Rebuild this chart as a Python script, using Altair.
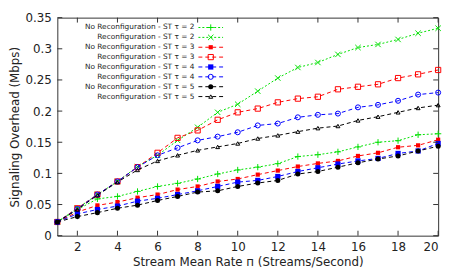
import altair as alt
import pandas as pd

n_values = list(range(1, 21))

series_names = [
    "No Reconfiguration - ST τ = 2",
    "Reconfiguration - ST τ = 2",
    "No Reconfiguration - ST τ = 3",
    "Reconfiguration - ST τ = 3",
    "No Reconfiguration - ST τ = 4",
    "Reconfiguration - ST τ = 4",
    "No Reconfiguration - ST τ = 5",
    "Reconfiguration - ST τ = 5",
]

nr_tau2 = [0.022, 0.042, 0.059, 0.063, 0.071, 0.079, 0.084, 0.091, 0.099, 0.1055,
           0.110, 0.1156, 0.127, 0.130, 0.1346, 0.1425, 0.150, 0.1525, 0.162, 0.1636]
r_tau2 = [0.022, 0.044, 0.066, 0.087, 0.111, 0.129, 0.153, 0.174, 0.198, 0.211,
          0.232, 0.253, 0.270, 0.278, 0.291, 0.302, 0.307, 0.315, 0.325, 0.333]
nr_tau3 = [0.022, 0.038, 0.0486, 0.054, 0.061, 0.066, 0.074, 0.079, 0.087, 0.091,
           0.098, 0.1045, 0.111, 0.116, 0.120, 0.128, 0.133, 0.142, 0.145, 0.154]
r_tau3 = [0.022, 0.044, 0.066, 0.087, 0.110, 0.133, 0.157, 0.169, 0.186, 0.198,
          0.204, 0.214, 0.220, 0.223, 0.235, 0.239, 0.243, 0.253, 0.259, 0.266]
nr_tau4 = [0.022, 0.035, 0.042, 0.0475, 0.0554, 0.060, 0.066, 0.072, 0.079, 0.086,
           0.0887, 0.095, 0.103, 0.109, 0.115, 0.120, 0.124, 0.132, 0.136, 0.148]
r_tau4 = [0.022, 0.043, 0.066, 0.087, 0.110, 0.129, 0.141, 0.153, 0.159, 0.166,
          0.177, 0.180, 0.190, 0.194, 0.196, 0.206, 0.210, 0.2165, 0.2265, 0.2297]
nr_tau5 = [0.022, 0.0306, 0.037, 0.044, 0.049, 0.0565, 0.063, 0.070, 0.072, 0.079,
           0.0845, 0.0887, 0.099, 0.103, 0.110, 0.117, 0.123, 0.128, 0.136, 0.1436]
r_tau5 = [0.022, 0.042, 0.065, 0.086, 0.1055, 0.120, 0.129, 0.137, 0.1425, 0.148,
          0.156, 0.161, 0.167, 0.1726, 0.176, 0.185, 0.191, 0.198, 0.205, 0.2096]

series_values = [nr_tau2, r_tau2, nr_tau3, r_tau3, nr_tau4, r_tau4, nr_tau5, r_tau5]

x_ticks = [2, 4, 6, 8, 10, 12, 14, 16, 18, 20]
y_ticks = [0, 0.05, 0.1, 0.15, 0.2, 0.25, 0.3, 0.35]

# styles
colors = ["#00e000", "#00e000", "#ff0000", "#ff0000", "#0000ff", "#0000ff", "#000000", "#000000"]
PLUS = "M-1,0L1,0M0,-1L0,1"
CROSS = "M-1,-1L1,1M-1,1L1,-1"
shapes = [PLUS, CROSS, "square", "square", "square", "circle", "circle", "triangle-up"]
filled = [False, False, True, False, True, False, True, False]
sizes = [40, 30, 18, 28, 28, 26, 26, 16]
dashes = [[2, 2], [2, 2], [4, 3], [4, 3], [4, 3], [4, 3], [4, 3], [4, 3]]

W, H = 386, 221
FONT = "DejaVu Sans"

x_scale = alt.Scale(domain=[1, 20], nice=False, zero=False)
y_scale = alt.Scale(domain=[0, 0.35], nice=False)

rows = []
for name, vals in zip(series_names, series_values):
    for n, v in zip(n_values, vals):
        rows.append({"n": n, "v": v, "series": name})
df = pd.DataFrame(rows)

x_axis = alt.Axis(values=x_ticks, title="Stream Mean Rate п (Streams/Second)", titlePadding=4)
y_axis = alt.Axis(values=y_ticks, format="~g", title="Signaling Overhead (Mbps)", titlePadding=4)

layers = []
for i, name in enumerate(series_names):
    base = alt.Chart(df).transform_filter(alt.datum.series == name)
    line = base.mark_line(color=colors[i], strokeWidth=1, strokeDash=dashes[i]).encode(
        x=alt.X("n:Q", scale=x_scale, axis=x_axis),
        y=alt.Y("v:Q", scale=y_scale, axis=y_axis),
    )
    pts = base.mark_point(shape=shapes[i], filled=filled[i], size=sizes[i],
                          color=colors[i], strokeWidth=1, opacity=1).encode(
        x=alt.X("n:Q", scale=x_scale, axis=x_axis), y=alt.Y("v:Q", scale=y_scale, axis=y_axis))
    layers += [line, pts]

# inward ticks
xt = pd.DataFrame({"t": x_ticks})
yt = pd.DataFrame({"t": y_ticks})
tick_color = "#333"
layers.append(alt.Chart(xt).mark_rule(color=tick_color, strokeWidth=1).encode(
    x=alt.X("t:Q", scale=x_scale, axis=x_axis), y=alt.value(H), y2=alt.value(H - 5)))
layers.append(alt.Chart(xt).mark_rule(color=tick_color, strokeWidth=1).encode(
    x=alt.X("t:Q", scale=x_scale, axis=x_axis), y=alt.value(0), y2=alt.value(5)))
layers.append(alt.Chart(yt).mark_rule(color=tick_color, strokeWidth=1).encode(
    y=alt.Y("t:Q", scale=y_scale, axis=y_axis), x=alt.value(0), x2=alt.value(5)))
layers.append(alt.Chart(yt).mark_rule(color=tick_color, strokeWidth=1).encode(
    y=alt.Y("t:Q", scale=y_scale, axis=y_axis), x=alt.value(W), x2=alt.value(W - 5)))

# legend (gnuplot style: label, then sample)
leg_text_x = 139
leg_line_x1, leg_line_x2 = 143, 168
leg_pt_x = 155.5
for i, name in enumerate(series_names):
    ly = 10 + 10 * i
    ld = pd.DataFrame({"label": [name]})
    layers.append(alt.Chart(ld).mark_text(align="right", baseline="middle", font=FONT,
                                          fontSize=7.5, color="#222").encode(
        text="label:N", x=alt.value(leg_text_x), y=alt.value(ly)))
    layers.append(alt.Chart(ld).mark_rule(color=colors[i], strokeWidth=1,
                                          strokeDash=dashes[i]).encode(
        x=alt.value(leg_line_x1), x2=alt.value(leg_line_x2), y=alt.value(ly)))
    layers.append(alt.Chart(ld).mark_point(shape=shapes[i], filled=filled[i], size=sizes[i],
                                           color=colors[i], strokeWidth=1, opacity=1).encode(
        x=alt.value(leg_pt_x), y=alt.value(ly)))

chart = alt.layer(*layers).properties(
    width=W, height=H,
    background="white",
    padding={"left": 0, "top": 2, "right": 5, "bottom": 0},
).configure_view(
    stroke="#333", strokeWidth=1
).configure_axis(
    ticks=False, domain=False, grid=False, labelOverlap=False,
    labelFont=FONT, labelFontSize=12, labelColor="#222", labelPadding=6,
    titleFont=FONT, titleFontSize=12, titleFontWeight="normal", titleColor="#222",
)

chart.save("out.html", embed_options={"renderer": "svg", "actions": False})
